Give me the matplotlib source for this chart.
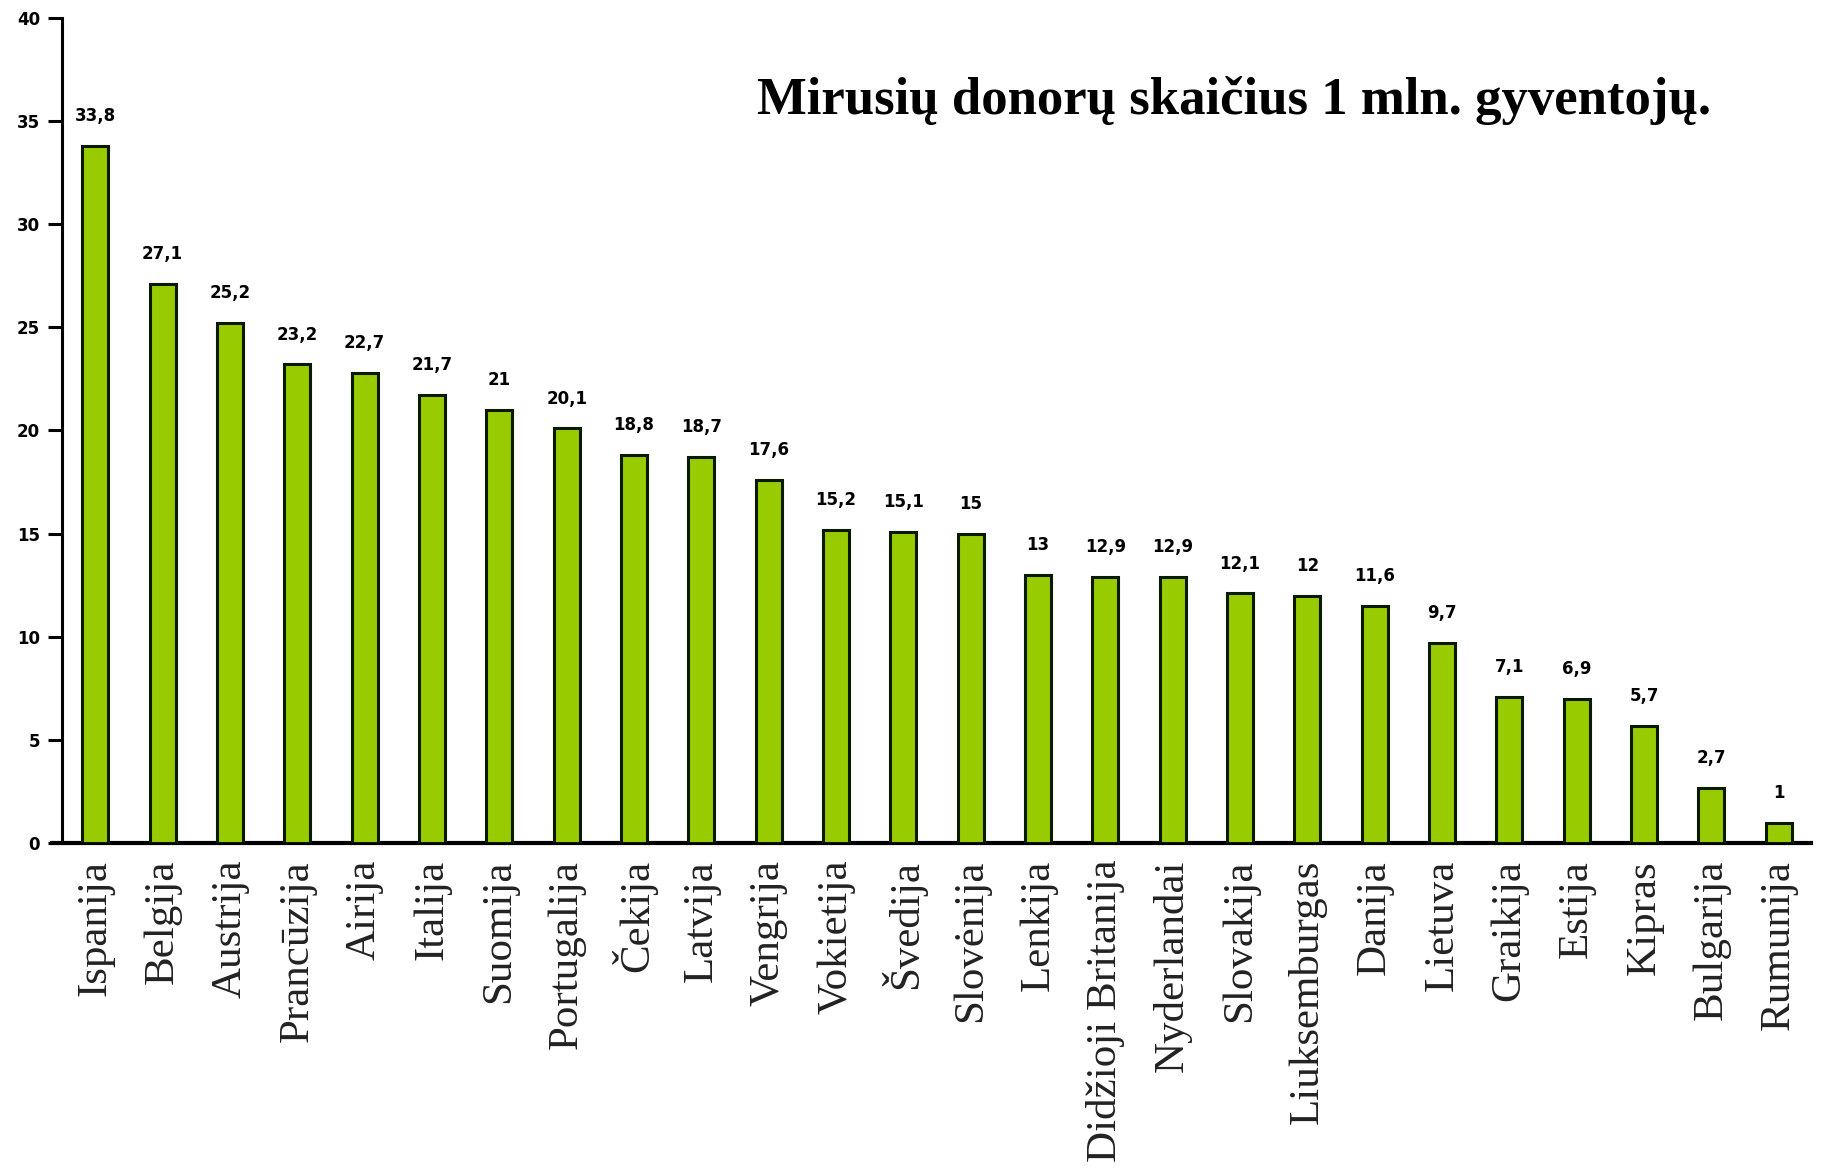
import matplotlib
matplotlib.use("Agg")
import matplotlib.pyplot as plt

countries = ["Ispanija", "Belgija", "Austrija", "Prancūzija", "Airija", "Italija",
             "Suomija", "Portugalija", "Čekija", "Latvija", "Vengrija", "Vokietija",
             "Švedija", "Slovėnija", "Lenkija", "Didžioji Britanija", "Nyderlandai",
             "Slovakija", "Liuksemburgas", "Danija", "Lietuva", "Graikija", "Estija",
             "Kipras", "Bulgarija", "Rumunija"]
values = [33.8, 27.1, 25.2, 23.2, 22.8, 21.7, 21.0, 20.1, 18.8, 18.7, 17.6, 15.2,
          15.1, 15.0, 13.0, 12.9, 12.9, 12.1, 12.0, 11.5, 9.7, 7.1, 7.0, 5.7, 2.7, 1.0]
value_labels = ["33,8", "27,1", "25,2", "23,2", "22,7", "21,7", "21", "20,1", "18,8",
                "18,7", "17,6", "15,2", "15,1", "15", "13", "12,9", "12,9", "12,1",
                "12", "11,6", "9,7", "7,1", "6,9", "5,7", "2,7", "1"]
yticks = [0, 5, 10, 15, 20, 25, 30, 35, 40]
title = "Mirusių donorų skaičius 1 mln. gyventojų."

fig = plt.figure(figsize=(18.33, 11.68), dpi=100)
ax = fig.add_axes([0.034, 0.278, 0.954, 0.707])

x = list(range(len(countries)))
ax.bar(x, values, width=0.39, color="#99cc00", edgecolor="#0a1a00", linewidth=2.2, zorder=3)

for xi, v, lab in zip(x, values, value_labels):
    ax.annotate(lab, (xi, v), xytext=(0, 15), textcoords="offset points",
                ha="center", va="bottom", fontsize=12, fontweight="bold",
                family="DejaVu Sans", color="black")

ax.set_xlim(-0.49, 25.48)
ax.set_ylim(0, 40)
ax.set_yticks(yticks)
ax.set_yticklabels([str(t) for t in yticks], fontsize=12, fontweight="bold", family="DejaVu Sans")
ax.set_xticks(x)
ax.set_xticklabels(countries, rotation=90, fontsize=31, family="Liberation Serif",
                   color="#222222", va="top")
ax.tick_params(axis="x", length=0, pad=12)
ax.tick_params(axis="y", length=10, width=2.2, direction="out", pad=6)

for s in ["top", "right"]:
    ax.spines[s].set_visible(False)
ax.spines["left"].set_linewidth(2.2)
ax.spines["bottom"].set_linewidth(3)
ax.spines["bottom"].set_bounds(-0.65, 25.48)

fig.text(0.673, 0.914, title, ha="center", va="center", fontsize=38,
         fontweight="bold", family="Liberation Serif", color="black")

fig.savefig("out.png", dpi=100, facecolor="white")
